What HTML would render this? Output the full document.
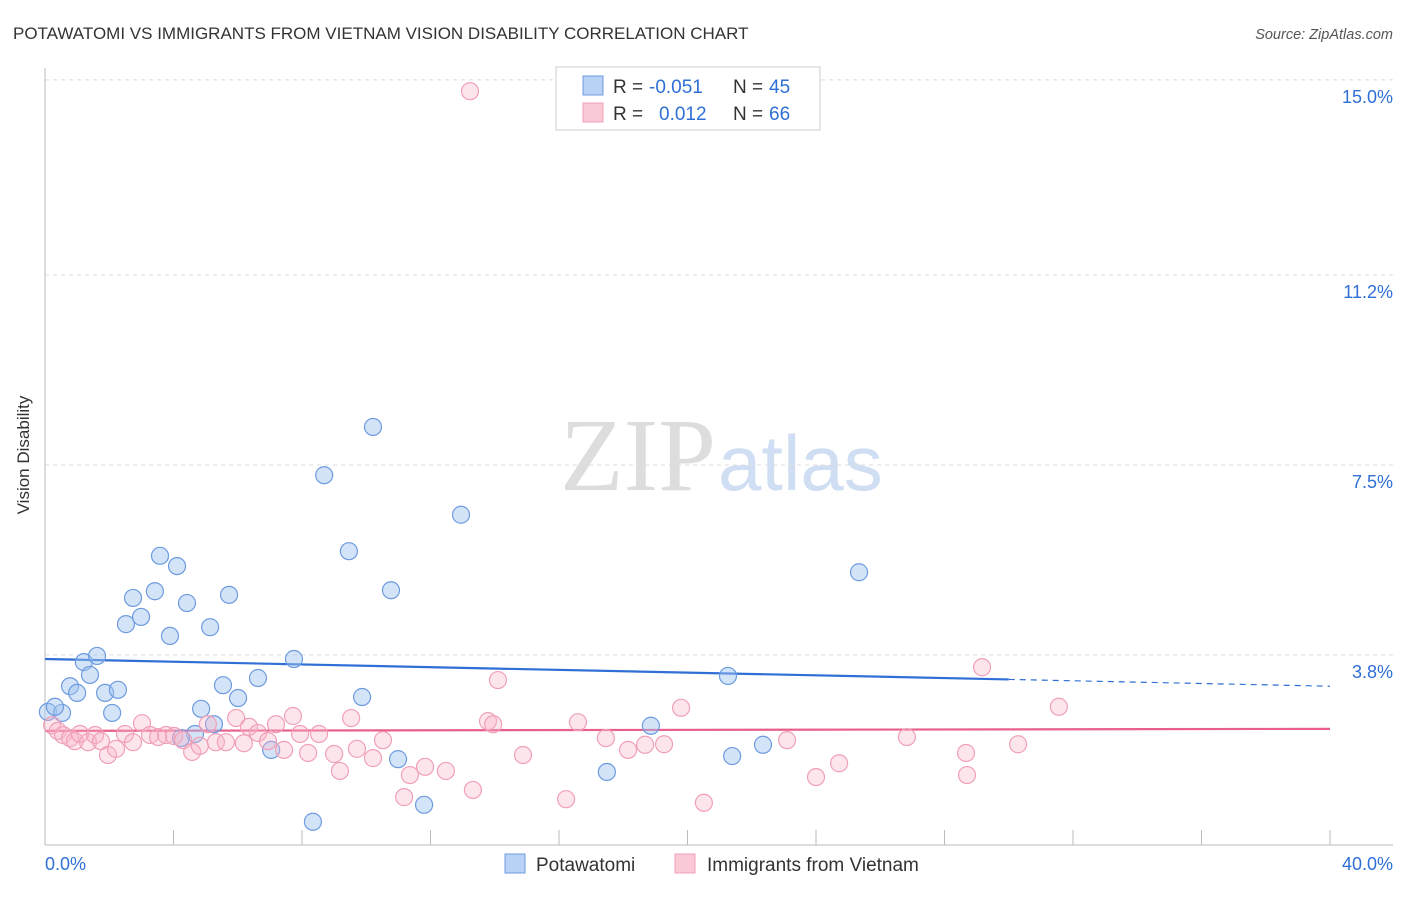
<!DOCTYPE html>
<html><head><meta charset="utf-8"><style>
body{margin:0;background:#fff;font-family:"Liberation Sans",sans-serif}
svg text{font-family:"Liberation Sans",sans-serif}
</style></head><body>
<svg id="c" width="1406" height="892">
<text x="13" y="39" font-size="17" fill="#333">POTAWATOMI VS IMMIGRANTS FROM VIETNAM VISION DISABILITY CORRELATION CHART</text>
<text x="1393" y="39" font-size="14.5" fill="#555" font-style="italic" text-anchor="end">Source: ZipAtlas.com</text>
<text x="29" y="455" font-size="17" fill="#333" text-anchor="middle" transform="rotate(-90 29 455)">Vision Disability</text>
<text x="716" y="490" font-size="104" fill="#ddd" text-anchor="end" style="font-family:'Liberation Serif',serif">ZIP</text>
<text x="718" y="490" font-size="78" fill="#d0def3">atlas</text>
<g id="grid"></g><g id="axes"></g><g id="trend"></g><g id="pts"></g>
<g>
<rect x="556" y="67" width="264" height="63" fill="#fff" stroke="#ccc"/>
<rect x="583" y="76" width="20" height="19" fill="#b7d2f5" stroke="#6d9be0"/>
<rect x="583" y="103" width="20" height="19" fill="#fbc8d6" stroke="#f0a0b8"/>
<text x="613" y="93" font-size="19" fill="#333">R =</text>
<text x="649" y="93" font-size="19" fill="#2f6fd6">-0.051</text>
<text x="733" y="93" font-size="19" fill="#333">N =</text>
<text x="769" y="93" font-size="19" fill="#2f6fd6">45</text>
<text x="613" y="120" font-size="19" fill="#333">R =</text>
<text x="659" y="120" font-size="19" fill="#2f6fd6">0.012</text>
<text x="733" y="120" font-size="19" fill="#333">N =</text>
<text x="769" y="120" font-size="19" fill="#2f6fd6">66</text>
</g>
<g>
<rect x="505" y="854" width="20" height="19" fill="#b7d2f5" stroke="#6d9be0"/>
<text x="536" y="871" font-size="19" fill="#333">Potawatomi</text>
<rect x="675" y="854" width="20" height="19" fill="#fbc8d6" stroke="#f0a0b8"/>
<text x="707" y="871" font-size="19" fill="#333">Immigrants from Vietnam</text>
</g>
</svg>
<script>
const yTicks=[15.0,11.2,7.5,3.8];
const yTickLabels=["15.0%","11.2%","7.5%","3.8%"];
const xTicks=[0,4,8,12,16,20,24,28,32,36,40];
const blueX=[0.09,0.53,0.31,0.78,1.00,1.21,1.40,1.62,1.87,2.09,2.27,2.52,2.74,2.99,3.42,3.58,3.89,4.11,4.42,4.67,4.86,5.14,5.26,5.54,5.73,6.01,6.63,7.04,7.75,8.34,8.69,9.46,9.87,10.21,10.77,10.99,11.80,12.95,17.49,18.86,21.26,21.39,22.35,25.34,4.23];
const blueY=[2.69,2.67,2.79,3.19,3.06,3.66,3.41,3.78,3.06,2.67,3.12,4.40,4.91,4.54,5.04,5.73,4.17,5.53,4.81,2.26,2.75,4.34,2.45,3.21,4.97,2.96,3.35,1.95,3.72,0.55,7.30,5.82,2.98,8.24,5.06,1.77,0.88,6.53,1.52,2.42,3.39,1.83,2.05,5.41,2.18];
const pinkX=[0.22,0.40,0.56,0.78,0.93,1.09,1.34,1.56,1.74,1.96,2.21,2.49,2.74,3.02,3.27,3.52,3.77,4.02,4.30,4.58,4.82,5.07,5.32,5.63,5.95,6.19,6.35,6.63,6.94,7.19,7.44,7.72,7.94,8.19,8.53,9.00,9.18,9.53,9.71,10.21,10.52,11.18,11.36,11.83,12.48,13.23,13.32,13.79,13.95,14.10,14.88,16.22,16.59,17.46,18.15,18.68,19.27,19.80,20.51,23.10,24.00,24.72,26.83,28.67,28.70,29.17,30.29,31.56];
const pinkY=[2.43,2.32,2.24,2.18,2.12,2.26,2.10,2.24,2.12,1.85,1.97,2.26,2.10,2.47,2.24,2.20,2.24,2.22,2.14,1.91,2.03,2.45,2.10,2.10,2.57,2.08,2.40,2.28,2.12,2.45,1.95,2.61,2.26,1.89,2.26,1.87,1.54,2.57,1.97,1.79,2.14,1.03,1.46,1.62,1.54,14.78,1.17,2.51,2.45,3.31,1.85,0.99,2.49,2.18,1.95,2.05,2.06,2.77,0.92,2.14,1.42,1.69,2.20,1.89,1.46,3.56,2.06,2.79];
const blueTrend=[3.72,3.19];
const pinkTrend=[2.32,2.36];
const X=v=>45+v*32.125, Y=v=>850-v*51.34;
const NS="http://www.w3.org/2000/svg";
function mk(p,t,a){const e=document.createElementNS(NS,t);for(const k in a)e.setAttribute(k,a[k]);document.getElementById(p).appendChild(e);return e;}
yTicks.forEach((v,i)=>{
 const l=mk('grid','line',{x1:45,x2:1393,y1:Y(v),y2:Y(v),stroke:'#ddd','stroke-dasharray':'4 4'});
 
 
 const t=mk('grid','text',{x:1393,y:Y(v)+23,'font-size':18,fill:'#2f6fd6','text-anchor':'end'});
 t.textContent=yTickLabels[i];
 
 
});
const ax=mk('axes','line',{x1:45,x2:45,y1:68,y2:845,stroke:'#bbb'});


const bx=mk('axes','line',{x1:45,x2:1393,y1:845,y2:845,stroke:'#bbb'});


xTicks.forEach(v=>{const t=mk('axes','line',{x1:X(v),x2:X(v),y1:830,y2:845,stroke:'#bbb'});
 
 });
const x0=mk('axes','text',{x:45,y:870,'font-size':18,fill:'#2f6fd6'});x0.textContent='0.0%';


const x1=mk('axes','text',{x:1393,y:870,'font-size':18,fill:'#2f6fd6','text-anchor':'end'});x1.textContent='40.0%';


blueX.forEach((v,i)=>{const c=mk('pts','circle',{cx:X(v),cy:Y(blueY[i]),r:8.5,fill:'rgba(160,196,240,0.45)',stroke:'#6d9be0','stroke-width':1.2});
 
 });
pinkX.forEach((v,i)=>{const c=mk('pts','circle',{cx:X(v),cy:Y(pinkY[i]),r:8.5,fill:'rgba(248,180,200,0.35)',stroke:'#f0a0b8','stroke-width':1.2});
 
 });
const bAt=x=>blueTrend[0]+(blueTrend[1]-blueTrend[0])*x/40;
const b1=mk('trend','line',{x1:X(0),y1:Y(bAt(0)),x2:X(30),y2:Y(bAt(30)),stroke:'#2f6fd6','stroke-width':2.2});


const b2=mk('trend','line',{x1:X(30),y1:Y(bAt(30)),x2:X(40),y2:Y(bAt(40)),stroke:'#2f6fd6','stroke-width':1.2,'stroke-dasharray':'6 5'});


const p1=mk('trend','line',{x1:X(0),y1:Y(pinkTrend[0]),x2:X(40),y2:Y(pinkTrend[1]),stroke:'#e8608a','stroke-width':2.2});


</script>
</body></html>
